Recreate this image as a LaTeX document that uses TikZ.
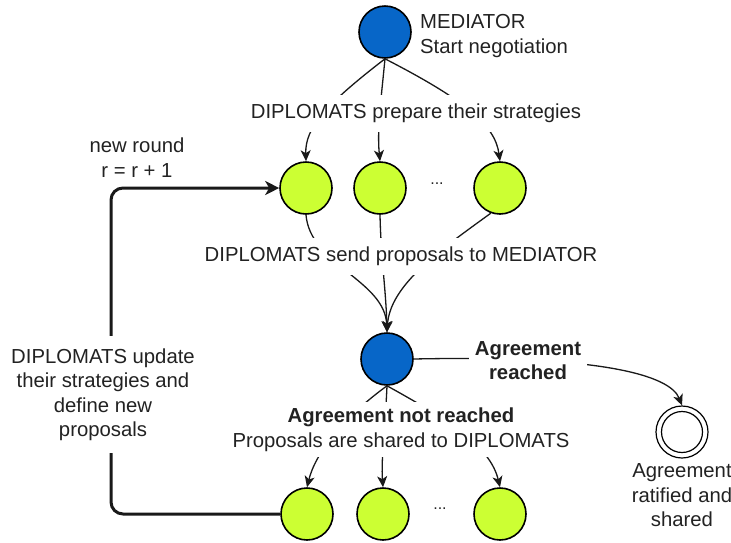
\documentclass[tikz,border=0pt]{standalone}
\usepackage{fontspec}
\setmainfont{Liberation Sans}
\usetikzlibrary{arrows.meta}

\definecolor{medblue}{HTML}{0766C8}
\definecolor{dipgreen}{HTML}{CCFF33}
\definecolor{txt}{HTML}{222222}

\begin{document}
\begin{tikzpicture}[x=1pt,y=-1pt,
    every node/.style={font=\fontsize{20.3pt}{24.5pt}\selectfont, text=txt},
    mednode/.style={circle, draw=black, line width=1.6pt, fill=medblue, minimum size=52pt, inner sep=0pt},
    dipnode/.style={circle, draw=black, line width=1.6pt, fill=dipgreen, minimum size=52pt, inner sep=0pt},
    finnode/.style={circle, draw=black, line width=1.2pt, fill=white, minimum size=52pt, inner sep=0pt},
    flow/.style={draw=black!90, line width=1.3pt},
    flowarrow/.style={flow, -{Stealth[length=11pt,width=10pt,inset=3pt]}},
    loopline/.style={draw=black!90, line width=3pt, rounded corners=12pt, -{Stealth[length=14pt,width=14pt,inset=4pt]}},
    edgelabel/.style={fill=white, inner xsep=3pt, inner ysep=9pt, align=center},
    plainlabel/.style={align=center, inner sep=0pt},
    dots/.style={inner sep=0pt, font=\fontsize{16pt}{16pt}\selectfont}
  ]
  \useasboundingbox (0,0) rectangle (731,542);

  % states
  \node[mednode] (m1) at (385,32) {};
  \node[dipnode] (g1) at (306,188) {};
  \node[dipnode] (g2) at (380,188) {};
  \node[dipnode] (g3) at (500,188) {};
  \node[dots] at (437,184) {...};
  \node[mednode] (m2) at (387,359) {};
  \node[dipnode] (h1) at (307,514) {};
  \node[dipnode] (h2) at (383,514) {};
  \node[dipnode] (h3) at (500,514) {};
  \node[dots] at (440,509) {...};
  \node[finnode] (fin) at (682,432) {};
  \draw[line width=1.2pt] (fin.center) circle[radius=20.5pt];

  % mediator opens the negotiation
  \draw[flowarrow] (m1.south) .. controls (325,105) and (305,128) .. (g1.north);
  \draw[flowarrow] (m1.south) .. controls (381,100) and (377,130) .. (g2.north);
  \draw[flowarrow] (m1.south) .. controls (465,100) and (495,125) .. (g3.north);

  % proposals go to the mediator
  \draw[flowarrow] (g1.south) .. controls (310,265) and (385,280) .. (m2.north);
  \draw[flowarrow] (g2.south) .. controls (381,260) and (386,290) .. (m2.north);
  \draw[flowarrow] (g3.250) .. controls (440,250) and (390,285) .. (m2.north);

  % proposals are shared back
  \draw[flowarrow] (m2.south) .. controls (340,420) and (315,455) .. (h1.north);
  \draw[flowarrow] (m2.south) .. controls (385,430) and (381,460) .. (h2.north);
  \draw[flowarrow] (m2.south) .. controls (445,418) and (490,445) .. (h3.north);

  % agreement reached
  \draw[flowarrow] (m2.east) .. controls (600,355) and (670,375) .. (fin.north);

  % next round
  \coordinate (lb) at (111,514);
  \draw[loopline] (h1.west) -- (lb) |- (g1.west);

  % labels
  \node[plainlabel, anchor=west, align=left] at (420,36) {MEDIATOR\\Start negotiation};
  \node[edgelabel] at (416,113.5) {DIPLOMATS prepare their strategies};
  \node[edgelabel] at (401,256.5) {DIPLOMATS send proposals to MEDIATOR};
  \node[edgelabel, inner xsep=6pt] at (528,360.5) {\bfseries Agreement\\\bfseries reached};
  \node[edgelabel, inner ysep=6pt] at (401,429.5) {\bfseries Agreement not reached\\Proposals are shared to DIPLOMATS};
  \node[plainlabel] at (137,157.5) {new round\\r = r + 1};
  \node[edgelabel, inner ysep=12pt] at (103,394.5) {DIPLOMATS update\\their strategies and\\define new\\proposals};
  \node[plainlabel] at (682,495.5) {Agreement\\ratified and\\shared};
\end{tikzpicture}
\end{document}
